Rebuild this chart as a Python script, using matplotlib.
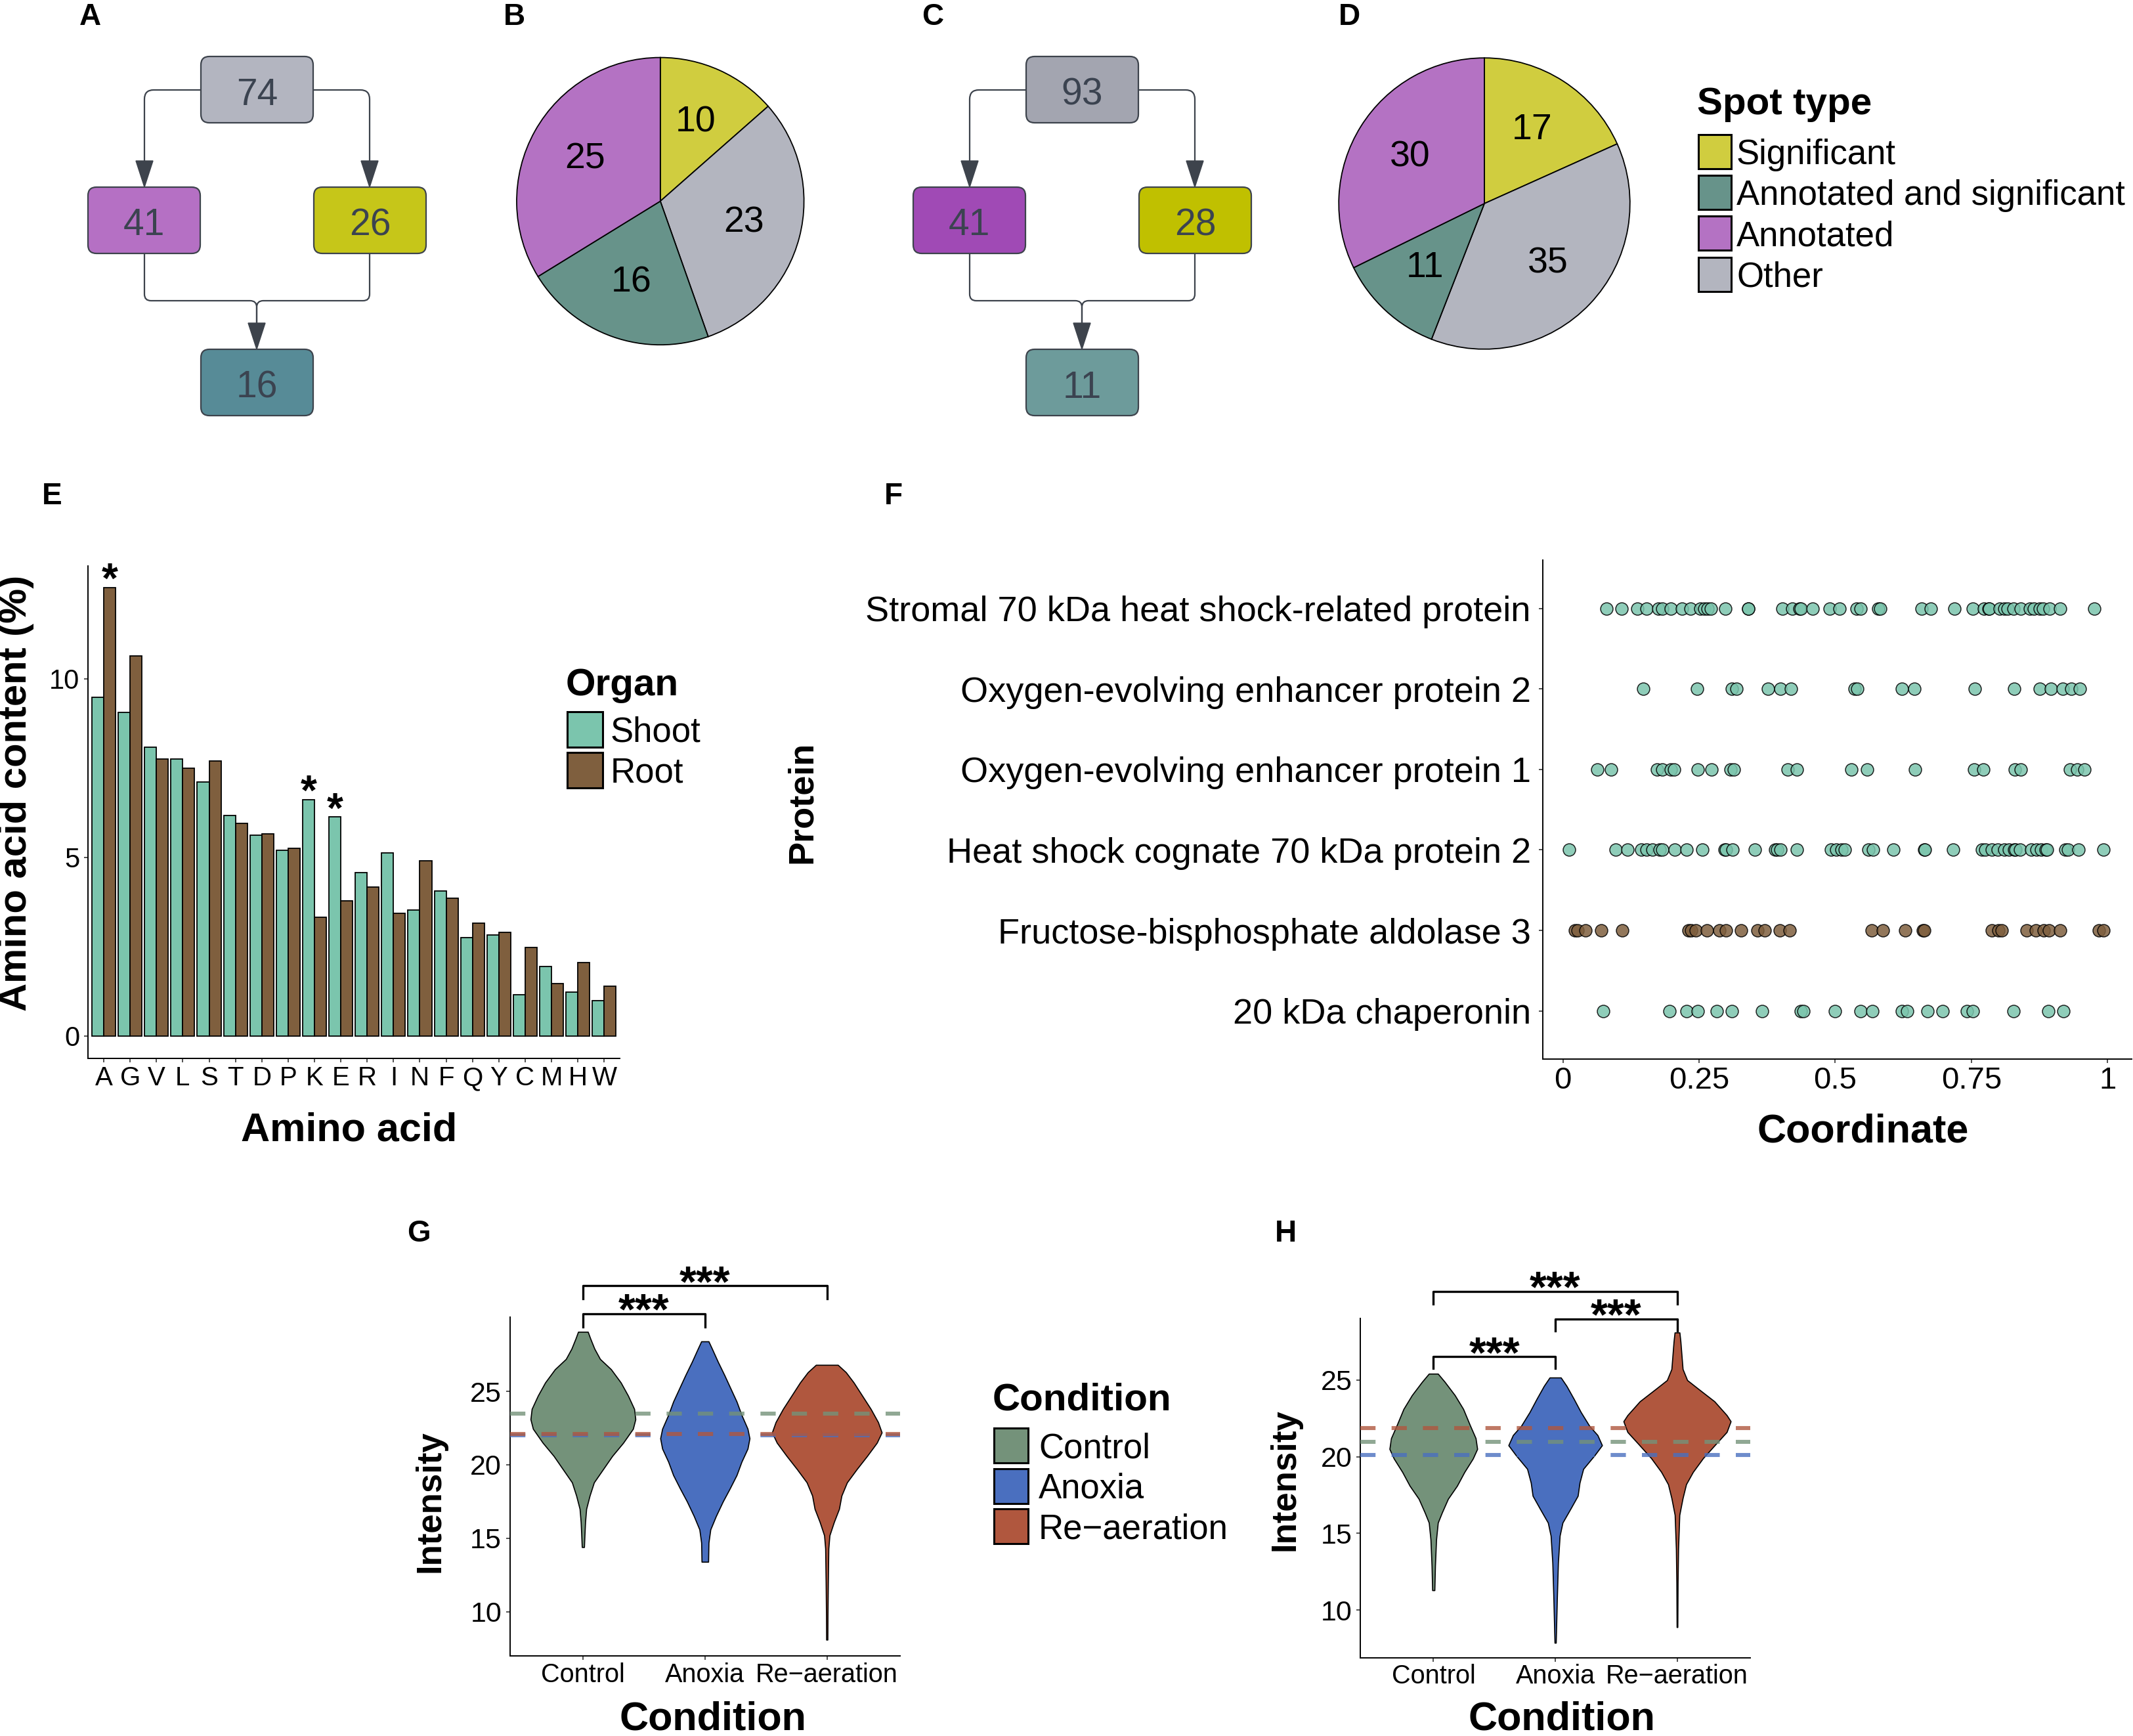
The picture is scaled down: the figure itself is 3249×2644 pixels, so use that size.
import matplotlib
matplotlib.use("Agg")
import matplotlib.pyplot as plt
from matplotlib.patches import FancyBboxPatch, Rectangle, Polygon, PathPatch
from matplotlib.path import Path
import numpy as np

plt.rcParams['font.family'] = ['Liberation Sans', 'DejaVu Sans']

W, H = 3249, 2644

# ---- A / C flow charts: top, left, right, bottom box ----
flow_a = [74, 41, 26, 16]
flow_c = [93, 41, 28, 11]
flow_a_colors = ['#b3b5c0', '#b570c4', '#c6c619', '#578b97']
flow_c_colors = ['#a3a5b0', '#a04ab5', '#c0c000', '#6d9b9b']

# ---- B / D pies (clockwise from 12 o'clock) ----
pie_types = ['Significant', 'Other', 'Annotated and significant', 'Annotated']
pie_b = [10, 23, 16, 25]
pie_d = [17, 35, 11, 30]
spot_legend = ['Significant', 'Annotated and significant', 'Annotated', 'Other']
spot_colors = {'Significant': '#d0cd3f', 'Annotated and significant': '#67938a',
               'Annotated': '#b472c3', 'Other': '#b3b5bf'}

# ---- E amino acid content ----
amino_acids = ['A', 'G', 'V', 'L', 'S', 'T', 'D', 'P', 'K', 'E',
               'R', 'I', 'N', 'F', 'Q', 'Y', 'C', 'M', 'H', 'W']
shoot = [9.48, 9.06, 8.09, 7.75, 7.11, 6.18, 5.62, 5.19, 6.62, 6.13,
         4.58, 5.12, 3.52, 4.06, 2.76, 2.82, 1.15, 1.94, 1.23, 0.98]
root = [12.56, 10.64, 7.75, 7.49, 7.70, 5.95, 5.65, 5.25, 3.33, 3.78,
        4.16, 3.44, 4.91, 3.86, 3.16, 2.90, 2.47, 1.47, 2.06, 1.39]
sig_marks = [('A', 'Root'), ('K', 'Shoot'), ('E', 'Shoot')]
organs = ['Shoot', 'Root']
organ_colors = {'Shoot': '#7bc5ad', 'Root': '#7f5f3e'}

# ---- F peptide coordinates ----
proteins = ['20 kDa chaperonin', 'Fructose-bisphosphate aldolase 3',
            'Heat shock cognate 70 kDa protein 2', 'Oxygen-evolving enhancer protein 1',
            'Oxygen-evolving enhancer protein 2', 'Stromal 70 kDa heat shock-related protein']
protein_organ = ['Shoot', 'Root', 'Shoot', 'Shoot', 'Shoot', 'Shoot']
coord_chap20 = [0.074, 0.196, 0.227, 0.248, 0.283, 0.310, 0.366, 0.437, 0.442, 0.500, 0.547,
                0.568, 0.623, 0.632, 0.669, 0.697, 0.742, 0.752, 0.827, 0.891, 0.919]
coord_fba3 = [0.022, 0.027, 0.042, 0.070, 0.109, 0.231, 0.236, 0.244, 0.265, 0.288, 0.299,
              0.327, 0.357, 0.371, 0.398, 0.416, 0.567, 0.587, 0.629, 0.661, 0.664, 0.788,
              0.800, 0.806, 0.852, 0.868, 0.883, 0.892, 0.913, 0.984, 0.993]
coord_hsc70 = [0.012, 0.097, 0.119, 0.144, 0.154, 0.165, 0.178, 0.183, 0.205, 0.227, 0.256,
               0.297, 0.300, 0.311, 0.352, 0.390, 0.394, 0.400, 0.430, 0.492, 0.502, 0.511,
               0.517, 0.561, 0.569, 0.607, 0.664, 0.665, 0.716, 0.769, 0.776, 0.788, 0.798,
               0.811, 0.819, 0.828, 0.831, 0.839, 0.860, 0.870, 0.878, 0.886, 0.889, 0.923,
               0.927, 0.947, 0.992]
coord_oee1 = [0.063, 0.088, 0.173, 0.183, 0.198, 0.204, 0.248, 0.273, 0.308, 0.314, 0.413,
              0.430, 0.530, 0.558, 0.647, 0.755, 0.772, 0.830, 0.840, 0.931, 0.944, 0.957]
coord_oee2 = [0.148, 0.246, 0.310, 0.319, 0.376, 0.399, 0.419, 0.536, 0.540, 0.622, 0.645,
              0.756, 0.829, 0.875, 0.896, 0.918, 0.933, 0.949]
coord_stromal = [0.080, 0.108, 0.137, 0.154, 0.175, 0.182, 0.198, 0.219, 0.234, 0.252, 0.260,
                 0.266, 0.272, 0.298, 0.340, 0.341, 0.403, 0.421, 0.435, 0.437, 0.458, 0.490,
                 0.508, 0.539, 0.547, 0.579, 0.583, 0.658, 0.676, 0.719, 0.753, 0.773, 0.781,
                 0.783, 0.802, 0.811, 0.816, 0.827, 0.840, 0.857, 0.865, 0.875, 0.881, 0.894,
                 0.913, 0.976]
coords = [coord_chap20, coord_fba3, coord_hsc70, coord_oee1, coord_oee2, coord_stromal]

# ---- G / H violins: outline (intensity, half width) ----
conditions = ['Control', 'Anoxia', 'Re\u2212aeration']
cond_colors = ['#74927a', '#4a6fbf', '#b0573e']
g_y = [[14.4, 15.2, 16.1, 17.0, 17.9, 18.8, 19.7, 20.6, 21.5, 22.45, 23.1, 23.8, 24.7, 25.6,
        26.5, 27.2, 27.9, 28.6, 29.05],
       [13.4, 14.7, 15.6, 16.5, 17.5, 18.4, 19.3, 20.2, 21.1, 21.8, 22.45, 23.4, 24.3, 25.2,
        26.1, 27.0, 27.9, 28.4],
       [8.1, 9.7, 12.0, 14.3, 15.2, 16.1, 17.0, 17.9, 18.8, 19.7, 20.6, 21.5, 22.2, 22.9, 23.8,
        24.7, 25.6, 26.3, 26.8]]
g_w = [[0.009, 0.013, 0.018, 0.027, 0.055, 0.09, 0.165, 0.24, 0.33, 0.41, 0.43, 0.42, 0.37,
        0.31, 0.23, 0.14, 0.094, 0.06, 0.04],
       [0.027, 0.03, 0.045, 0.09, 0.147, 0.205, 0.26, 0.30, 0.35, 0.366, 0.35, 0.30, 0.26, 0.21,
        0.16, 0.107, 0.058, 0.03],
       [0.005, 0.006, 0.009, 0.013, 0.022, 0.058, 0.10, 0.12, 0.165, 0.245, 0.33, 0.41, 0.45,
        0.42, 0.36, 0.29, 0.22, 0.156, 0.09]]
h_y = [[11.3, 12.9, 14.6, 15.7, 16.35, 17.25, 18.1, 19.0, 19.87, 20.5, 21.2, 22.05, 23.1, 24.0,
        24.87, 25.4],
       [7.88, 10.7, 13.1, 14.85, 15.7, 16.6, 17.45, 18.3, 19.2, 20.1, 20.74, 21.4, 22.0, 22.9,
        23.75, 24.6, 25.15],
       [8.9, 11.8, 14.0, 16.2, 17.3, 18.2, 19.0, 19.9, 20.8, 21.6, 22.3, 22.7, 23.6, 24.4, 24.98,
        25.7, 26.6, 27.5, 28.08]]
h_w = [[0.009, 0.014, 0.023, 0.037, 0.07, 0.12, 0.194, 0.255, 0.324, 0.36, 0.347, 0.30, 0.245,
        0.176, 0.093, 0.037],
       [0.005, 0.014, 0.023, 0.037, 0.06, 0.125, 0.185, 0.2, 0.23, 0.324, 0.384, 0.347, 0.28,
        0.21, 0.153, 0.093, 0.046],
       [0.003, 0.005, 0.009, 0.019, 0.046, 0.074, 0.13, 0.213, 0.315, 0.407, 0.44, 0.407, 0.306,
        0.176, 0.083, 0.046, 0.037, 0.028, 0.02]]
g_means = [23.48, 22.0, 22.1]
h_means = [20.98, 20.11, 21.86]
# (group i, group j, bracket top, tick bottom)
g_brackets = [(0, 1, 30.27, 29.4), (0, 2, 32.18, 31.3)]
h_brackets = [(0, 1, 26.5, 25.74), (1, 2, 28.97, 28.19), (0, 2, 30.76, 29.93)]

EDGE = '#3d434c'
NUMTXT = '#3b4350'

fig = plt.figure(figsize=(W / 100, H / 100), dpi=100)


def px_axes(l, t, r, b):
    return fig.add_axes([l / W, 1 - b / H, (r - l) / W, (b - t) / H])


ov = fig.add_axes([0, 0, 1, 1])
ov.set_xlim(0, W)
ov.set_ylim(H, 0)
ov.axis('off')


def rounded_line(pts, r=14):
    # polyline with rounded elbows
    pts = np.asarray(pts, dtype=float)
    verts = [pts[0]]
    codes = [Path.MOVETO]
    for k in range(1, len(pts) - 1):
        p0, p1, p2 = pts[k - 1], pts[k], pts[k + 1]
        d0 = (p1 - p0) / np.linalg.norm(p1 - p0)
        d1 = (p2 - p1) / np.linalg.norm(p2 - p1)
        verts += [p1 - d0 * r, p1, p1 + d1 * r]
        codes += [Path.LINETO, Path.CURVE3, Path.CURVE3]
    verts.append(pts[-1])
    codes.append(Path.LINETO)
    ov.add_patch(PathPatch(Path(verts, codes), fc='none', ec=EDGE, lw=1.6))


def draw_flow(x0, vals, cols):
    bw, bh = 171, 101
    boxes = [(x0 + 172, 86), (x0, 285), (x0 + 344, 285), (x0 + 172, 532)]
    for (bx, by), v, c in zip(boxes, vals, cols):
        ov.add_patch(FancyBboxPatch((bx, by), bw, bh, boxstyle='round,pad=0,rounding_size=13',
                                    fc=c, ec=EDGE, lw=1.6, zorder=3))
        ov.text(bx + bw / 2, by + bh / 2 + 8, str(v), ha='center', va='center',
                fontsize=41, color=NUMTXT, zorder=4)
    xl, xm, xr = x0 + 86, x0 + 257, x0 + 429
    rounded_line([(x0 + 172, 137), (xl, 137), (xl, 246)])
    rounded_line([(x0 + 343, 137), (xr, 137), (xr, 246)])
    rounded_line([(xl, 386), (xl, 458), (xm, 458), (xm, 494)], r=10)
    rounded_line([(xr, 386), (xr, 458), (xm, 458), (xm, 494)], r=10)
    for ax_x, y0, y1 in [(xl, 245, 285), (xr, 245, 285), (xm, 492, 532)]:
        ov.add_patch(Polygon([(ax_x - 13, y0), (ax_x + 13, y0), (ax_x, y1)], closed=True,
                             fc=EDGE, ec=EDGE, lw=1))


draw_flow(134, flow_a, flow_a_colors)
draw_flow(1391, flow_c, flow_c_colors)


def draw_pie(cx, cy, r, vals):
    ax = px_axes(cx - r, cy - r, cx + r, cy + r)
    cols = [spot_colors[t] for t in pie_types]
    wedges, texts = ax.pie(vals, colors=cols, startangle=90, counterclock=False,
                           labels=[str(v) for v in vals], labeldistance=0.6,
                           wedgeprops=dict(edgecolor='black', linewidth=1.3),
                           textprops=dict(fontsize=40))
    for t in texts:
        t.set_ha('center')
        t.set_va('center')
    ax.set_xlim(-1.01, 1.01)
    ax.set_ylim(-1.01, 1.01)


draw_pie(1005.8, 306.4, 221, pie_b)
draw_pie(2261, 310, 224, pie_d)


def legend_block(x, title, title_base, top0, step, labels, colors, bw, bh, lab_dx):
    ov.text(x, title_base, title, fontsize=42, fontweight='bold', va='baseline', ha='left')
    for i, (lab, c) in enumerate(zip(labels, colors)):
        top = top0 + i * step
        ov.add_patch(Rectangle((x + 2, top), bw, bh, fc=c, ec='black', lw=2.2))
        ov.text(x + 2 + bw + lab_dx, top + bh / 2 + 19, lab, fontsize=38, va='baseline',
                ha='left')


legend_block(2585, 'Spot type', 174, 205, 62.2, spot_legend,
             [spot_colors[s] for s in spot_legend], 50, 52, 8)
legend_block(862, 'Organ', 1059, 1084, 62, organs,
             [organ_colors[o] for o in organs], 54, 54, 12)
legend_block(1512, 'Condition', 2148, 2175, 61.5, conditions, cond_colors, 52, 53, 16)

# panel letters
for lab, (x, y) in zip('ABCDEFGH', [(137, 26), (783, 26), (1421, 26), (2055, 26),
                                    (79, 756), (1361, 756), (638, 1879), (1958, 1879)]):
    ov.text(x, y, lab, fontsize=33, fontweight='bold', ha='center', va='center')


def classic(ax, xsize, ysize):
    for s in ['top', 'right']:
        ax.spines[s].set_visible(False)
    for s in ['left', 'bottom']:
        ax.spines[s].set_linewidth(1.4)
    ax.tick_params(axis='x', length=4, width=1.2, labelsize=xsize, pad=4, colors='#333333',
                   labelcolor='black')
    ax.tick_params(axis='y', length=4, width=1.2, labelsize=ysize, pad=5, colors='#333333',
                   labelcolor='black')
    ax.set_facecolor('none')


# ---- E ----
axE = px_axes(134, 862, 944.4, 1612)
xpos = np.arange(len(amino_acids))
axE.bar(xpos - 0.225, shoot, width=0.45, color=organ_colors['Shoot'], edgecolor='black', lw=1.3)
axE.bar(xpos + 0.225, root, width=0.45, color=organ_colors['Root'], edgecolor='black', lw=1.3)
for aa, org in sig_marks:
    i = amino_acids.index(aa)
    val = shoot[i] if org == 'Shoot' else root[i]
    xoff = -0.225 if org == 'Shoot' else 0.225
    axE.annotate('*', (i + xoff, val), xytext=(0, -6), textcoords='offset points',
                 ha='center', va='baseline', fontsize=46, fontweight='bold')
axE.set_xlim(-0.6, 19.6)
axE.set_ylim(-0.63, 13.16)
axE.set_xticks(xpos)
axE.set_xticklabels(amino_acids)
axE.set_yticks([0, 5, 10])
classic(axE, 29, 30)
fig.text(25 / W, 1 - 1208 / H, 'Amino acid content (%)', rotation=90, fontsize=43,
         fontweight='bold', ha='center', va='center')
fig.text(532 / W, 1 - 1722 / H, 'Amino acid', fontsize=44, fontweight='bold',
         ha='center', va='center')

# ---- F ----
axF = px_axes(2349.8, 853, 3246.8, 1613.3)
for i, (vals, org) in enumerate(zip(coords, protein_organ)):
    axF.scatter(vals, [i] * len(vals), s=185, color=organ_colors[org], alpha=0.85,
                edgecolor='black', linewidth=1.1, zorder=3)
axF.set_xlim(-0.037, 1.044)
axF.set_ylim(-0.6, 5.6)
axF.set_yticks(range(len(proteins)))
axF.set_yticklabels(proteins)
axF.set_xticks([0, 0.25, 0.5, 0.75, 1])
axF.set_xticklabels(['0', '0.25', '0.5', '0.75', '1'])
classic(axF, 34, 39)
axF.tick_params(axis='y', pad=9)
fig.text(1222 / W, 1 - 1222 / H, 'Protein', rotation=90, fontsize=39, fontweight='bold',
         ha='center', va='center')
fig.text(2838 / W, 1 - 1724 / H, 'Coordinate', fontsize=44, fontweight='bold',
         ha='center', va='center')


# ---- G / H ----
def violin_panel(box, ylim, ys, ws, means, brackets, ylab_xy, xlab_xy):
    ax = px_axes(*box)
    for i, (yy, ww, c) in enumerate(zip(ys, ws, cond_colors)):
        yy = np.array(yy)
        ww = np.array(ww)
        ax.fill_betweenx(yy, i - ww, i + ww, facecolor=c, edgecolor='black', lw=1.2, zorder=2)
    for i in range(3):
        ax.axhline(means[i], color=cond_colors[i], lw=4.4, alpha=0.8,
                   linestyle=(0, (3.8, 4.0)), zorder=3)
    for i, j, top, low in brackets:
        ax.plot([i, i, j, j], [low, top, top, low], color='black', lw=2.4, clip_on=False)
        ax.annotate('***', ((i + j) / 2, top), xytext=(0, -11), textcoords='offset points',
                    ha='center', va='baseline', fontsize=48, fontweight='bold',
                    annotation_clip=False)
    ax.set_xlim(-0.6, 2.6)
    ax.set_ylim(*ylim)
    ax.set_xticks(range(3))
    ax.set_xticklabels(conditions)
    ax.set_yticks([10, 15, 20, 25])
    classic(ax, 28.5, 31)
    ax.tick_params(axis='x', pad=3)
    fig.text(ylab_xy[0] / W, 1 - ylab_xy[1] / H, 'Intensity', rotation=90, fontsize=38,
             fontweight='bold', ha='center', va='center')
    fig.text(xlab_xy[0] / W, 1 - xlab_xy[1] / H, 'Condition', fontsize=44,
             fontweight='bold', ha='center', va='center')
    return ax


violin_panel((776.6, 2005.6, 1371, 2522.4), (6.98, 30.07), g_y, g_w, g_means, g_brackets,
             (655, 2287), (1086, 2619))
violin_panel((2072, 2008, 2666, 2524.5), (6.92, 29.0), h_y, h_w, h_means, h_brackets,
             (1958, 2254), (2379, 2619))

fig.savefig('out.png', dpi=100)
